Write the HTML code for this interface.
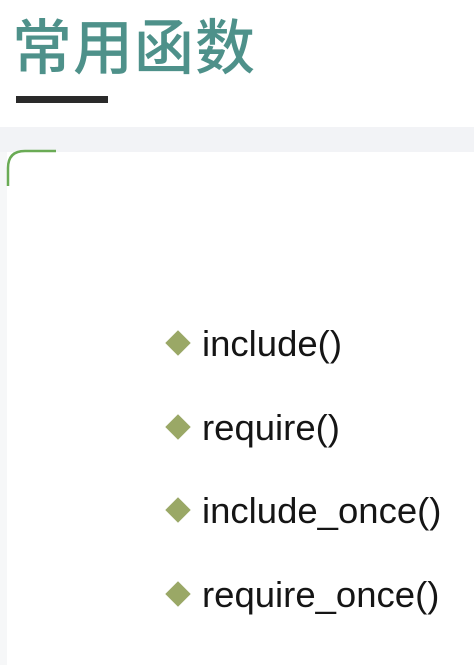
<!DOCTYPE html>
<html><head><meta charset="utf-8"><style>
body{margin:0;width:474px;height:665px;background:#fff;position:relative;overflow:hidden;font-family:"Liberation Sans","Noto Sans CJK SC",sans-serif}
.t{position:absolute;left:12px;top:4px;font-size:60px;line-height:80px;color:#4e918a;font-family:"Noto Sans CJK SC","WenQuanYi Zen Hei",sans-serif;font-weight:500;letter-spacing:1px}
.bar{position:absolute;left:16px;top:96px;width:92px;height:7px;background:#2a2a2a}
.band{position:absolute;left:0;top:127px;width:474px;height:25px;background:#f2f3f6}
.ls{position:absolute;left:0;top:152px;width:7px;height:513px;background:#f6f7f8}
.it{position:absolute;left:165px;font-size:36.5px;line-height:40px;color:#151515;height:40px}
.it i{display:inline-block;width:18px;height:18px;background:#9aa866;transform:rotate(45deg);margin:0 15px 0 4px;vertical-align:middle;position:relative;top:-3px}
</style></head><body>
<div class="t">常用函数</div>
<div class="bar"></div>
<div class="band"></div>
<div class="ls"></div>
<svg style="position:absolute;left:0;top:140px" width="70" height="60"><path d="M8 46 V28 Q8 11 25 11 H56" fill="none" stroke="#6aab55" stroke-width="2.5"/></svg>
<div class="it" style="top:324px"><i></i>include()</div>
<div class="it" style="top:408px"><i></i>require()</div>
<div class="it" style="top:491px"><i></i>include_once()</div>
<div class="it" style="top:575px"><i></i>require_once()</div>
</body></html>
